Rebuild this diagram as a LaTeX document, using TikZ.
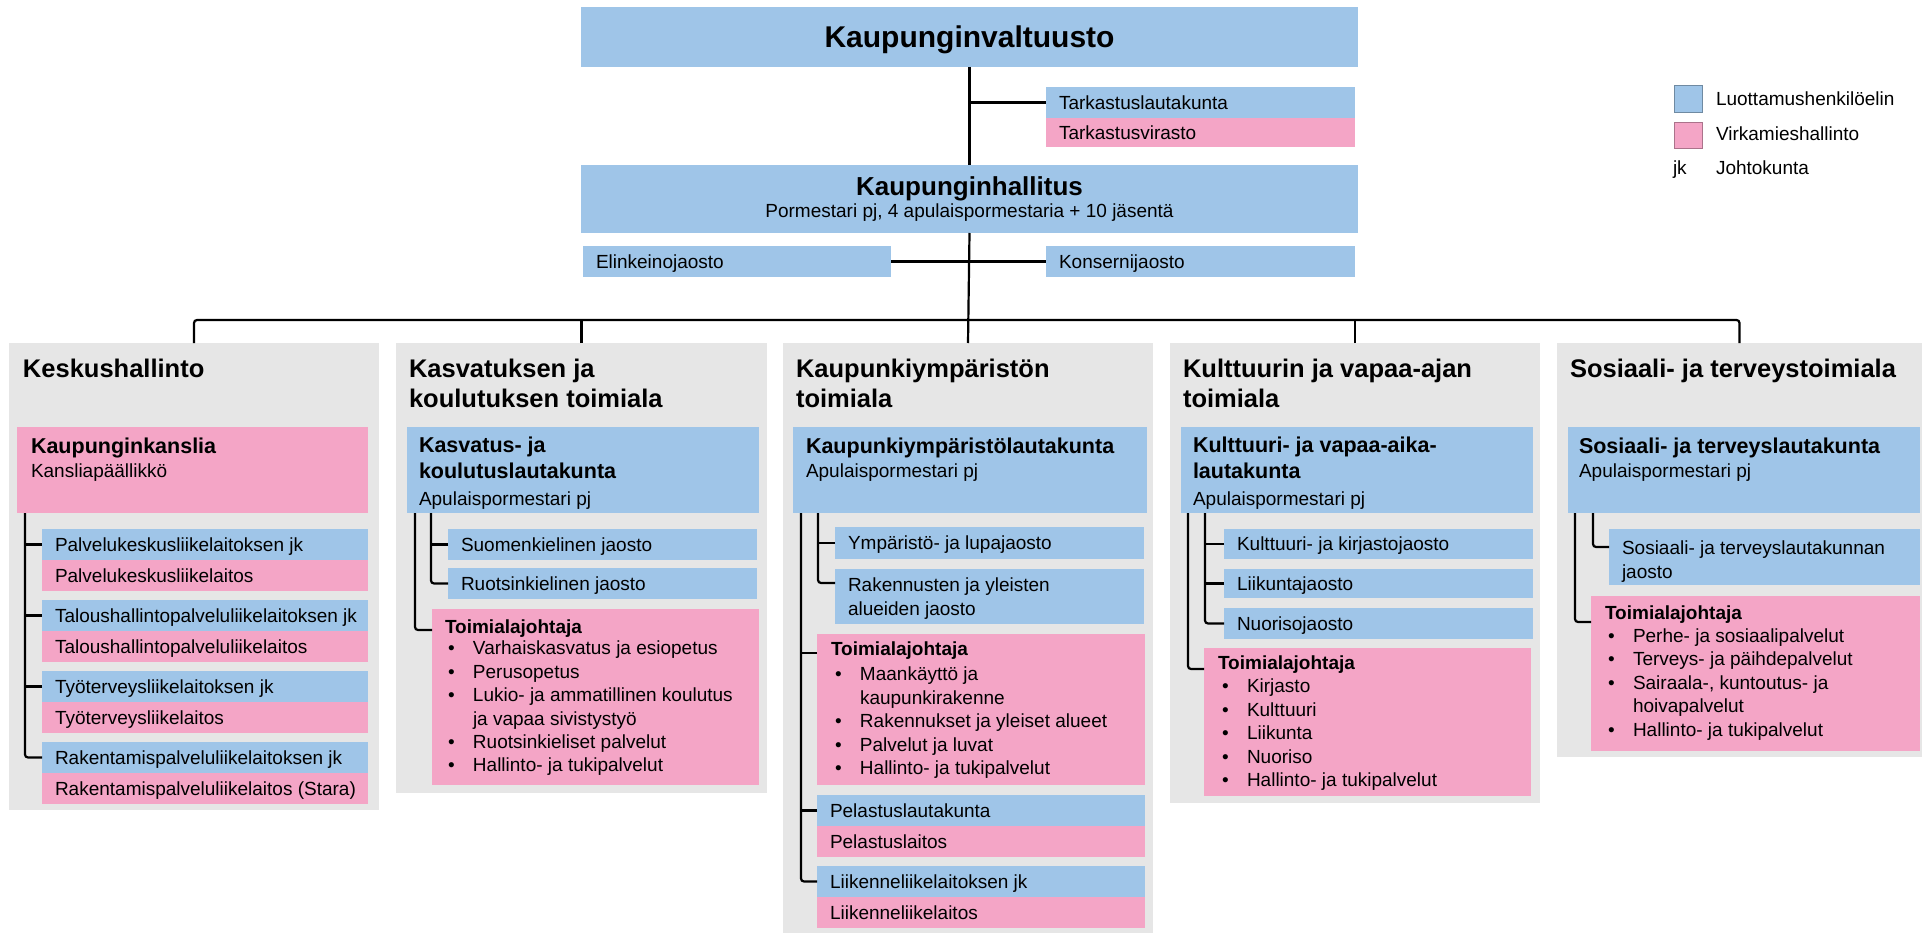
\documentclass[tikz,border=0pt]{standalone}
\usepackage{fontspec}
\setmainfont{Liberation Sans}
\usetikzlibrary{fit}
\definecolor{bl}{HTML}{9FC5E8}
\definecolor{pk}{HTML}{F4A5C6}
\definecolor{gr}{HTML}{E6E6E6}
\newcommand\fs[2]{\fontsize{#1}{#2}\selectfont}
\newcommand\bul{\makebox[25pt][l]{\textbullet}}
\newcommand\bulind{\hspace*{25pt}}
\tikzset{
  area/.style={inner sep=0pt, outer sep=0pt, fit={#1}},
  bluebox/.style={area={#1}, fill=bl},
  pinkbox/.style={area={#1}, fill=pk},
  graybox/.style={area={#1}, fill=gr},
  txt/.style={inner sep=0pt, outer sep=0pt, font=\fs{19}{23.4}},
  btxt/.style={inner sep=0pt, outer sep=0pt, font=\bfseries\fs{19}{23.4}},
  hdtxt/.style={inner sep=0pt, outer sep=0pt, font=\bfseries\fs{21.5}{26}},
  ttltxt/.style={inner sep=0pt, outer sep=0pt, font=\bfseries\fs{25.5}{30}},
  toptxt/.style={inner sep=0pt, outer sep=0pt, font=\bfseries\fs{30}{36}},
  intxt/.style={txt, anchor=base west, xshift=13pt, yshift=-6.8pt},
  conn/.style={draw=black, line width=2.2pt, rounded corners=3pt},
}
\begin{document}
\begin{tikzpicture}[x=1pt,y=-1pt]
\useasboundingbox (0,0) rectangle (1922,933);
\fill[white] (0,0) rectangle (1922,933);
\coordinate (bus) at (0,320);

% ---------- top ----------
\node[bluebox={(581,7) (1358,67)}] (valt) {};
\node[toptxt, anchor=base] (valtt) at (969.5,48) {Kaupunginvaltuusto};
\node[bluebox={(1046,87) (1355,118)}] (tark) {};
\node[pinkbox={(1046,118) (1355,147)}] (tvir) {};
\node[intxt] (tarkt) at (tark.west) {Tarkastuslautakunta};
\node[intxt] (tvirt) at (tvir.west) {Tarkastusvirasto};
\node[bluebox={(581,165) (1358,233)}] (hall) {};
\node[ttltxt, font=\bfseries\fs{26}{30}, anchor=base] (hallt) at (969.5,196) {Kaupunginhallitus};
\node[txt, anchor=base] (halls) at (969.5,218) {Pormestari pj, 4 apulaispormestaria + 10 jäsentä};
\node[bluebox={(583,246) (891,277)}] (elin) {};
\node[bluebox={(1046,246) (1355,277)}] (kons) {};
\node[intxt] (elint) at (elin.west) {Elinkeinojaosto};
\node[intxt] (konst) at (kons.west) {Konsernijaosto};

% ---------- legend ----------
\node[area={(1674,85) (1702,112)}, fill=bl, draw=bl!70!black, line width=0.8pt] (lg1) {};
\node[area={(1674,122) (1702,148)}, fill=pk, draw=pk!70!black, line width=0.8pt] (lg2) {};
\node[txt, anchor=base west] (lg1t) at (1716,106) {Luottamushenkilöelin};
\node[txt, anchor=base west] (lg2t) at (1716,141) {Virkamieshallinto};
\node[txt, anchor=base west] (lg3a) at (1673,175) {jk};
\node[txt, anchor=base west] (lg3t) at (1716,175) {Johtokunta};

% ---------- column 1 ----------
\node[graybox={(9,343) (379,810)}] (g1) {};
\node[ttltxt, anchor=base west] (g1t) at (23,377) {Keskushallinto};
\node[pinkbox={(17,427) (368,513)}] (kans) {};
\node[hdtxt, anchor=base west] (kanst) at (31,453) {Kaupunginkanslia};
\node[txt, anchor=base west] (kanss) at (31,477) {Kansliapäällikkö};
\node[bluebox={(42,529) (368,560)}] (pa1) {};
\node[pinkbox={(42,560) (368,591)}] (pa2) {};
\node[bluebox={(42,600) (368,631)}] (ta1) {};
\node[pinkbox={(42,631) (368,662)}] (ta2) {};
\node[bluebox={(42,671) (368,702)}] (ty1) {};
\node[pinkbox={(42,702) (368,733)}] (ty2) {};
\node[bluebox={(42,742) (368,773)}] (ra1) {};
\node[pinkbox={(42,773) (368,804)}] (ra2) {};
\node[intxt] (pa1t) at (pa1.west) {Palvelukeskusliikelaitoksen jk};
\node[intxt] (pa2t) at (pa2.west) {Palvelukeskusliikelaitos};
\node[intxt] (ta1t) at (ta1.west) {Taloushallintopalveluliikelaitoksen jk};
\node[intxt] (ta2t) at (ta2.west) {Taloushallintopalveluliikelaitos};
\node[intxt] (ty1t) at (ty1.west) {Työterveysliikelaitoksen jk};
\node[intxt] (ty2t) at (ty2.west) {Työterveysliikelaitos};
\node[intxt] (ra1t) at (ra1.west) {Rakentamispalveluliikelaitoksen jk};
\node[intxt] (ra2t) at (ra2.west) {Rakentamispalveluliikelaitos (Stara)};

% ---------- column 2 ----------
\node[graybox={(396,343) (767,793)}] (g2) {};
\node[ttltxt, align=left, anchor=north west] (g2t) at (409,356) {\strut Kasvatuksen ja\\koulutuksen toimiala};
\node[bluebox={(407,427) (759,513)}] (l2) {};
\node[hdtxt, align=left, anchor=north west] (l2t) at (419,434.3) {\strut Kasvatus- ja\\koulutuslautakunta};
\node[txt, anchor=base west] (l2s) at (419,505) {Apulaispormestari pj};
\node[bluebox={(448,529) (757,560)}] (suo) {};
\node[bluebox={(448,568) (757,599)}] (ruo) {};
\node[intxt] (suot) at (suo.west) {Suomenkielinen jaosto};
\node[intxt] (ruot) at (ruo.west) {Ruotsinkielinen jaosto};
\node[pinkbox={(432,609) (759,785)}] (t2) {};
\node[btxt, anchor=base west] (t2h) at (445,633) {Toimialajohtaja};
\node[txt, align=left, anchor=north west] (t2l) at (448,638.6) {\strut\bul Varhaiskasvatus ja esiopetus\\\bul Perusopetus\\\bul Lukio- ja ammatillinen koulutus\\\bulind ja vapaa sivistystyö\\\bul Ruotsinkieliset palvelut\\\bul Hallinto- ja tukipalvelut};

% ---------- column 3 ----------
\node[graybox={(783,343) (1153,933)}] (g3) {};
\node[ttltxt, align=left, anchor=north west] (g3t) at (796,356) {\strut Kaupunkiympäristön\\toimiala};
\node[bluebox={(793,427) (1147,513)}] (l3) {};
\node[hdtxt, anchor=base west] (l3t) at (806,453) {Kaupunkiympäristölautakunta};
\node[txt, anchor=base west] (l3s) at (806,477) {Apulaispormestari pj};
\node[bluebox={(835,527) (1144,559)}] (ymp) {};
\node[bluebox={(835,569) (1144,624)}] (rak) {};
\node[intxt] (ympt) at (ymp.west) {Ympäristö- ja lupajaosto};
\node[txt, align=left, anchor=north west] (rakt) at (848,575.6) {\strut Rakennusten ja yleisten\\alueiden jaosto};
\node[pinkbox={(817,634) (1145,785)}] (t3) {};
\node[btxt, anchor=base west] (t3h) at (831,655) {Toimialajohtaja};
\node[txt, align=left, anchor=north west] (t3l) at (835,664.6) {\strut\bul Maankäyttö ja\\\bulind kaupunkirakenne\\\bul Rakennukset ja yleiset alueet\\\bul Palvelut ja luvat\\\bul Hallinto- ja tukipalvelut};
\node[bluebox={(817,795) (1145,826)}] (pe1) {};
\node[pinkbox={(817,826) (1145,857)}] (pe2) {};
\node[bluebox={(817,866) (1145,897)}] (li1) {};
\node[pinkbox={(817,897) (1145,928)}] (li2) {};
\node[intxt] (pe1t) at (pe1.west) {Pelastuslautakunta};
\node[intxt] (pe2t) at (pe2.west) {Pelastuslaitos};
\node[intxt] (li1t) at (li1.west) {Liikenneliikelaitoksen jk};
\node[intxt] (li2t) at (li2.west) {Liikenneliikelaitos};

% ---------- column 4 ----------
\node[graybox={(1170,343) (1540,803)}] (g4) {};
\node[ttltxt, align=left, anchor=north west] (g4t) at (1183,356) {\strut Kulttuurin ja vapaa-ajan\\toimiala};
\node[bluebox={(1181,427) (1533,513)}] (l4) {};
\node[hdtxt, align=left, anchor=north west] (l4t) at (1193,434.3) {\strut Kulttuuri- ja vapaa-aika-\\lautakunta};
\node[txt, anchor=base west] (l4s) at (1193,505) {Apulaispormestari pj};
\node[bluebox={(1224,529) (1533,559)}] (kj) {};
\node[bluebox={(1224,569) (1533,598)}] (lj) {};
\node[bluebox={(1224,608) (1533,639)}] (nj) {};
\node[intxt] (kjt) at (kj.west) {Kulttuuri- ja kirjastojaosto};
\node[intxt] (ljt) at (lj.west) {Liikuntajaosto};
\node[intxt] (njt) at (nj.west) {Nuorisojaosto};
\node[pinkbox={(1204,648) (1531,796)}] (t4) {};
\node[btxt, anchor=base west] (t4h) at (1218,669) {Toimialajohtaja};
\node[txt, align=left, anchor=north west] (t4l) at (1222,676.6) {\strut\bul Kirjasto\\\bul Kulttuuri\\\bul Liikunta\\\bul Nuoriso\\\bul Hallinto- ja tukipalvelut};

% ---------- column 5 ----------
\node[graybox={(1557,343) (1922,757)}] (g5) {};
\node[ttltxt, anchor=base west] (g5t) at (1570,377) {Sosiaali- ja terveystoimiala};
\node[bluebox={(1568,427) (1920,513)}] (l5) {};
\node[hdtxt, anchor=base west] (l5t) at (1579,453) {Sosiaali- ja terveyslautakunta};
\node[txt, anchor=base west] (l5s) at (1579,477) {Apulaispormestari pj};
\node[bluebox={(1609,529) (1920,585)}] (jao) {};
\node[txt, align=left, anchor=north west] (jaot) at (1622,538.6) {\strut Sosiaali- ja terveyslautakunnan\\jaosto};
\node[pinkbox={(1591,596) (1920,751)}] (t5) {};
\node[btxt, anchor=base west] (t5h) at (1605,619) {Toimialajohtaja};
\node[txt, align=left, anchor=north west] (t5l) at (1608,626.1) {\strut\bul Perhe- ja sosiaalipalvelut\\\bul Terveys- ja päihdepalvelut\\\bul Sairaala-, kuntoutus- ja\\\bulind hoivapalvelut\\\bul Hallinto- ja tukipalvelut};

% ---------- connectors ----------
\draw[conn] (valt.south) -- (hall.north);
\draw[conn] (tark.west) -- (tark.west -| valt.south);
\draw[conn] (elin.east) -- (kons.west);
\draw[conn] (hall.south) -- (g3.north);
\draw[conn] (g1.north) |- (g5.north |- bus) -- (g5.north);
\draw[conn] (g2.north) -- (g2.north |- bus);
\draw[conn] (g4.north) -- (g4.north |- bus);

% column 1
\coordinate (k1) at ([xshift=8pt]kans.south west);
\draw[conn] (k1) |- (ra1.west);
\foreach \n in {pa1,ta1,ty1} \draw[conn] (\n.west) -- (\n.west -| k1);

% column 2
\coordinate (k2a) at ([xshift=8pt]l2.south west);
\coordinate (k2b) at ([xshift=24pt]l2.south west);
\coordinate (t2c) at ([yshift=-21pt]t2.north west);
\draw[conn] (k2a) |- (t2c);
\draw[conn] (k2b) |- (ruo.west);
\draw[conn] (suo.west) -- (suo.west -| k2b);

% column 3
\coordinate (k3a) at ([xshift=8pt]l3.south west);
\coordinate (k3b) at ([xshift=25pt]l3.south west);
\coordinate (t3c) at ([yshift=-19pt]t3.north west);
\coordinate (rakc) at ([yshift=-14pt]rak.north west);
\draw[conn] (k3a) |- (li1.west);
\draw[conn] (t3c) -- (t3c -| k3a);
\draw[conn] (pe1.west) -- (pe1.west -| k3a);
\draw[conn] (k3b) |- (rakc);
\draw[conn] (ymp.west) -- (ymp.west -| k3b);

% column 4
\coordinate (k4a) at ([xshift=7pt]l4.south west);
\coordinate (k4b) at ([xshift=24pt]l4.south west);
\coordinate (t4c) at ([yshift=-21pt]t4.north west);
\draw[conn] (k4a) |- (t4c);
\draw[conn] (k4b) |- (nj.west);
\draw[conn] (kj.west) -- (kj.west -| k4b);
\draw[conn] (lj.west) -- (lj.west -| k4b);

% column 5
\coordinate (k5a) at ([xshift=7pt]l5.south west);
\coordinate (k5b) at ([xshift=25pt]l5.south west);
\coordinate (t5c) at ([yshift=-26pt]t5.north west);
\coordinate (jaoc) at ([yshift=-18pt]jao.north west);
\draw[conn] (k5a) |- (t5c);
\draw[conn] (k5b) |- (jaoc);
\end{tikzpicture}
\end{document}
